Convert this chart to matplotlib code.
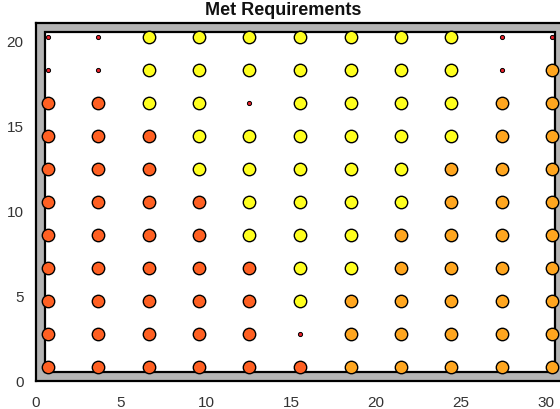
import matplotlib
matplotlib.use("Agg")
import matplotlib.pyplot as plt
from matplotlib.patches import Rectangle

plt.rcParams['font.family'] = ['Liberation Sans', 'DejaVu Sans']

# Grid positions
x_values = [0.7, 3.65, 6.65, 9.6, 12.55, 15.55, 18.5, 21.45, 24.4, 27.4, 30.35]
y_values = [0.82, 2.76, 4.7, 6.64, 8.58, 10.5, 12.44, 14.38, 16.32, 18.26, 20.19]

# Status per row, bottom row first; columns left to right
# R = red-orange, O = orange, Y = yellow, s = small red dot
status_rows = [
    "RRRRRROOOOO",  # y ~0.8
    "RRRRRsOOOOO",  # y ~2.8
    "RRRRRYOOOOO",  # y ~4.7
    "RRRRRYYOOOO",  # y ~6.6
    "RRRRYYYOOOO",  # y ~8.6
    "RRRRYYYYOOO",  # y ~10.5
    "RRRYYYYYOOO",  # y ~12.4
    "RRRYYYYYYOO",  # y ~14.4
    "RRYYsYYYYOO",  # y ~16.3
    "ssYYYYYYYsO",  # y ~18.3
    "ssYYYYYYYss",  # y ~20.2
]

colors = {"R": "#ff6022", "O": "#ffa61f", "Y": "#ffff1e", "s": "#e8202a"}
sizes = {"R": 80, "O": 80, "Y": 80, "s": 9}

fig = plt.figure(figsize=(5.6, 4.1), dpi=100)
ax = fig.add_axes([36/560, (410-382)/410, (563-36)/560, (382-24)/410])
ax.set_facecolor("#b4b4b4")
ax.set_xlim(0, 31)
ax.set_ylim(0, 21)

ax.add_patch(Rectangle((0.5, 0.5), 30.0, 20.0, facecolor="white",
                       edgecolor="black", linewidth=1.6, zorder=1))

for code in ["R", "O", "Y", "s"]:
    xs, ys = [], []
    for j, row in enumerate(status_rows):
        for i, c in enumerate(row):
            if c == code:
                xs.append(x_values[i])
                ys.append(y_values[j])
    ax.scatter(xs, ys, s=sizes[code], c=colors[code], edgecolors="black",
               linewidths=1.0 if code != "s" else 0.7, zorder=3, clip_on=False)

for sp in ax.spines.values():
    sp.set_linewidth(1.6)
    sp.set_color("black")

ax.set_xticks([0, 5, 10, 15, 20, 25, 30])
ax.set_yticks([0, 5, 10, 15, 20])
ax.tick_params(length=0, labelsize=11, colors="#333333", pad=9)
ax.tick_params(axis='x', pad=10)

fig.text(0.505, 0.975, "Met Requirements", ha="center", va="center",
         fontsize=13, fontweight="bold", color="#111111")

fig.savefig("out.png", dpi=100)
